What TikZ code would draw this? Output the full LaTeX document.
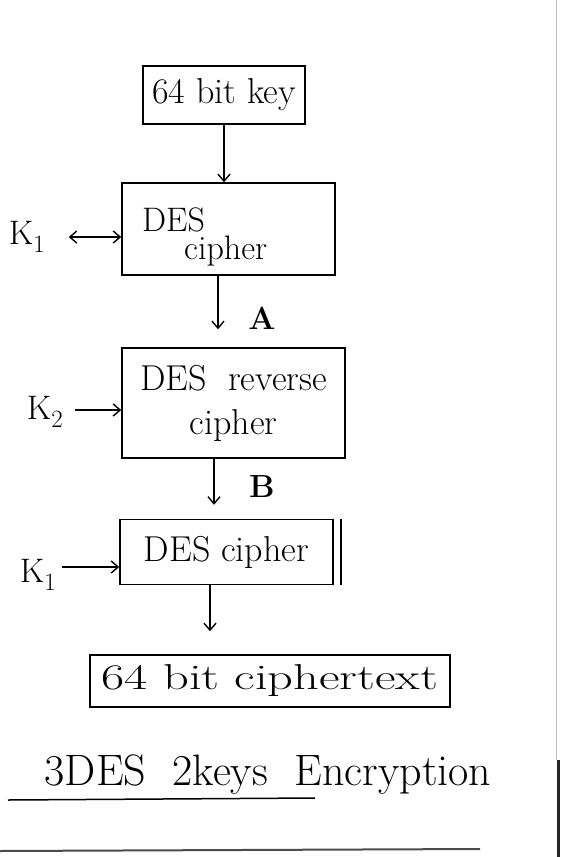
\documentclass[tikz,border=0pt]{standalone}
\usepackage{fontspec}
\setmainfont{Latin Modern Roman}
\usetikzlibrary{arrows.meta}
\begin{document}
\begin{tikzpicture}[x=1pt,y=-1pt,
  box/.style={draw, line width=1.5pt, inner sep=2pt, font=\fontsize{36}{44}\selectfont},
  txt/.style={inner sep=0pt, font=\fontsize{34}{40}\selectfont},
  lbl/.style={font=\fontsize{34}{36}\selectfont},
  big/.style={font=\fontsize{32}{34}\selectfont\bfseries},
  arr/.style={line width=1.4pt, -{Straight Barb[length=7pt,width=12pt]}},
  darr/.style={line width=1.4pt, {Straight Barb[length=7pt,width=12pt]}-{Straight Barb[length=7pt,width=12pt]}}]
\useasboundingbox (0,0) rectangle (562,857);
\fill[white] (0,0) rectangle (562,857);
% boxes
\node[box, minimum width=162pt, minimum height=58pt] (key) at (224,95) {64 bit key};
\node[box, minimum width=213pt, minimum height=92pt] (c1) at (228.5,229) {};
\node[txt, anchor=base west] (c1a) at (142,231) {DES};
\node[txt, anchor=base west] (c1b) at (184,259) {cipher};
\node[box, minimum width=223pt, minimum height=110pt, align=center] (c2) at (233.5,403) {DES\ \ reverse\\cipher};
\node[box, minimum width=213pt, minimum height=65pt] (c3) at (226.5,552) {DES cipher};
\node[box, minimum width=360pt, minimum height=52pt] (ct) at (270,681) {\scalebox{1.4}[1]{64 bit ciphertext}};
\draw[line width=1.5pt] ([xshift=7pt]c3.north east) -- ([xshift=7pt]c3.south east);
% key labels
\node[lbl] (k1) at (27,237) {K$_1$};
\node[lbl] (k2) at (45,412) {K$_2$};
\node[lbl] (k3) at (38,575) {K$_1$};
\draw[darr] ([xshift=20pt]k1.east) -- (k1.east -| c1.west);
\draw[arr] ([xshift=8pt,yshift=2pt]k2.east) -- ([yshift=2pt]k2.east -| c2.west);
\coordinate (k3a) at ([xshift=2pt,yshift=8pt]k3.east);
\draw[arr] (k3a) -- (k3a -| c3.west);
% flow arrows
\draw[arr] (key.south) -- (key.south |- c1.north);
\coordinate (a1) at (218,0);
\draw[arr] (c1.south -| a1) -- ([yshift=18pt]c2.north -| a1);
\node[big] (A) at (262,318) {A};
\coordinate (a2) at (214,0);
\draw[arr] (c2.south -| a2) -- ([yshift=14pt]c3.north -| a2);
\node[big] (B) at (262,487) {B};
\coordinate (a3) at (210,0);
\draw[arr] (c3.south -| a3) -- ([yshift=23pt]ct.north -| a3);
% title
\node[font=\fontsize{44}{48}\selectfont] (title) at (268,775) {3DES\ \ 2keys\ \ Encryption};
\draw[line width=1.5pt] (8,800) -- (315,798);
% page edges
\draw[line width=2pt, black!70] (0,851) -- (480,849);
\draw[line width=1pt, black!25] (556,0) -- (556,760);
\draw[line width=3pt, black!85] (558,760) -- (558,857);
\end{tikzpicture}
\end{document}
